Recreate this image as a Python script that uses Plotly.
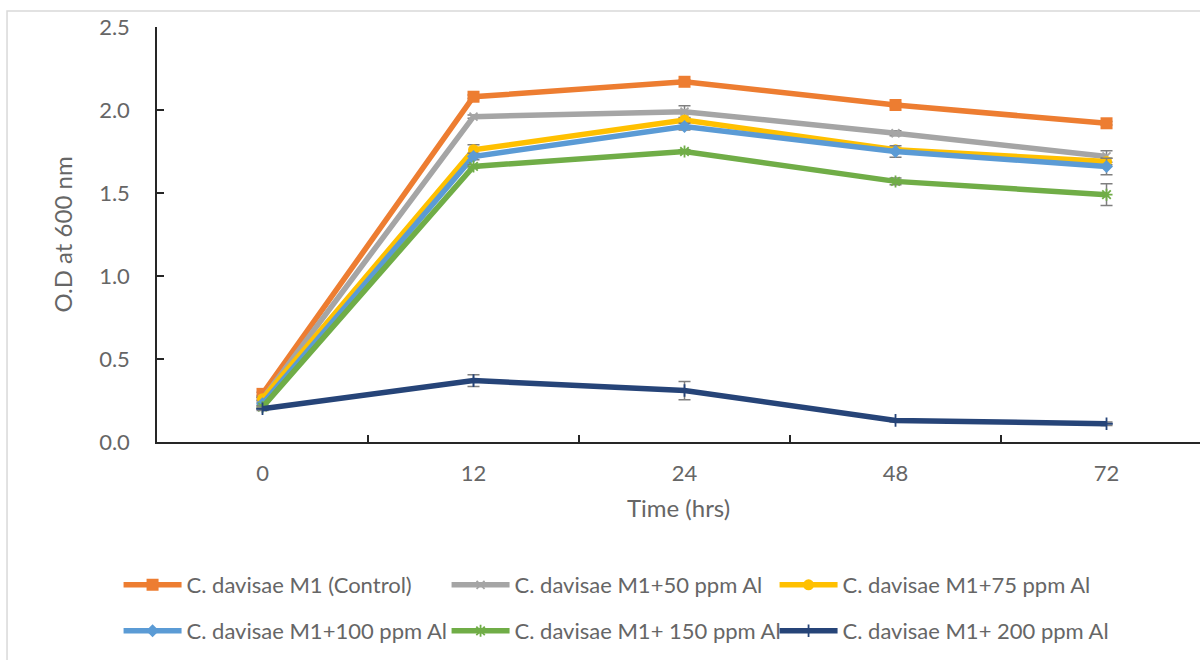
import plotly.graph_objects as go

time_labels = ["0", "12", "24", "48", "72"]

names = [
    "C. davisae M1 (Control)",
    "C. davisae M1+50 ppm Al",
    "C. davisae M1+75 ppm Al",
    "C. davisae M1+100 ppm Al",
    "C. davisae M1+ 150 ppm Al",
    "C. davisae M1+ 200 ppm Al",
]

control = [0.29, 2.08, 2.17, 2.03, 1.92]
al_50 = [0.26, 1.96, 1.99, 1.86, 1.72]
al_75 = [0.26, 1.76, 1.94, 1.76, 1.69]
al_100 = [0.23, 1.72, 1.90, 1.75, 1.66]
al_150 = [0.21, 1.66, 1.75, 1.57, 1.49]
al_200 = [0.20, 0.37, 0.31, 0.13, 0.11]

err_control = [0.01, 0.01, 0.01, 0.01, 0.01]
err_50 = [0.01, 0.01, 0.035, 0.015, 0.035]
err_75 = [0.01, 0.03, 0.01, 0.01, 0.02]
err_100 = [0.01, 0.02, 0.02, 0.035, 0.05]
err_150 = [0.01, 0.01, 0.01, 0.02, 0.065]
err_200 = [0.01, 0.035, 0.055, 0.01, 0.01]

series = [control, al_50, al_75, al_100, al_150, al_200]
errors = [err_control, err_50, err_75, err_100, err_150, err_200]
colors = ["#ED7D31", "#A5A5A5", "#FFC000", "#5B9BD5", "#70AD47", "#264478"]
symbols = ["square", "x-thin-open", "circle", "diamond", "asterisk-open", "cross-thin-open"]
msizes = [12, 8, 11, 10, 10, 9]

FONT = "Lato"
TXT = "#666666"

fig = go.Figure()
legends = {}
LEG_X = 0.0988
STRIDE = 328 / 1200
ROW_Y = [1 - 585 / 660, 1 - 631 / 660]
for i, (nm, ys, er) in enumerate(zip(names, series, errors)):
    open_sym = symbols[i].endswith("open")
    lid = "legend" if i == 0 else f"legend{i + 1}"
    fig.add_trace(go.Scatter(
        x=time_labels, y=ys, name=nm, mode="lines+markers",
        line=dict(color=colors[i], width=5.5),
        marker=dict(symbol=symbols[i], size=msizes[i], color=colors[i],
                    line=dict(color=colors[i], width=1.8 if open_sym else 0)),
        error_y=dict(type="data", array=er, visible=True, color="#7F7F7F",
                     thickness=1.5, width=6),
        legend=lid,
    ))
    legends[lid] = dict(
        orientation="h", xref="container", yref="container",
        xanchor="left", yanchor="middle",
        x=LEG_X + (i % 3) * STRIDE, y=ROW_Y[i // 3],
        font=dict(family=FONT, size=22, color=TXT),
        itemwidth=58, bgcolor="rgba(0,0,0,0)",
    )

fig.update_layout(
    width=1200, height=660,
    margin=dict(l=157, r=0, t=27, b=218, autoexpand=False),
    paper_bgcolor="white", plot_bgcolor="white",
    font=dict(family=FONT, size=22, color=TXT),
    showlegend=True,
    **legends,
    xaxis=dict(
        type="category", range=[-0.5, 4.443], automargin=False,
        showline=True, linecolor="#262626", linewidth=1.5,
        ticks="inside", ticklen=7, tickwidth=1.5, tickcolor="#262626",
        tickson="boundaries", showgrid=False, zeroline=False,
        tickfont=dict(family=FONT, size=22, color=TXT),
        ticklabelstandoff=11,
        title=dict(text="Time (hrs)", font=dict(family=FONT, size=24, color=TXT), standoff=15),
    ),
    yaxis=dict(
        range=[0, 2.5], dtick=0.5, tickformat=".1f", automargin=False,
        showline=True, linecolor="#262626", linewidth=1.5,
        ticks="inside", ticklen=7, tickwidth=1.5, tickcolor="#262626",
        showgrid=False, zeroline=False,
        tickfont=dict(family=FONT, size=22, color=TXT),
        ticklabelstandoff=21,
        title=dict(text="O.D at 600 nm", font=dict(family=FONT, size=24, color=TXT), standoff=20),
    ),
    shapes=[dict(type="rect", xref="paper", yref="paper",
                 x0=-0.1438, x1=1.05, y0=-0.6, y1=1.0386,
                 line=dict(color="#D9D9D9", width=1.5), fillcolor="rgba(0,0,0,0)",
                 layer="below")],
)

fig.write_html("out.html", config={"displayModeBar": False},
               post_script="document.body.style.margin='0px';")
